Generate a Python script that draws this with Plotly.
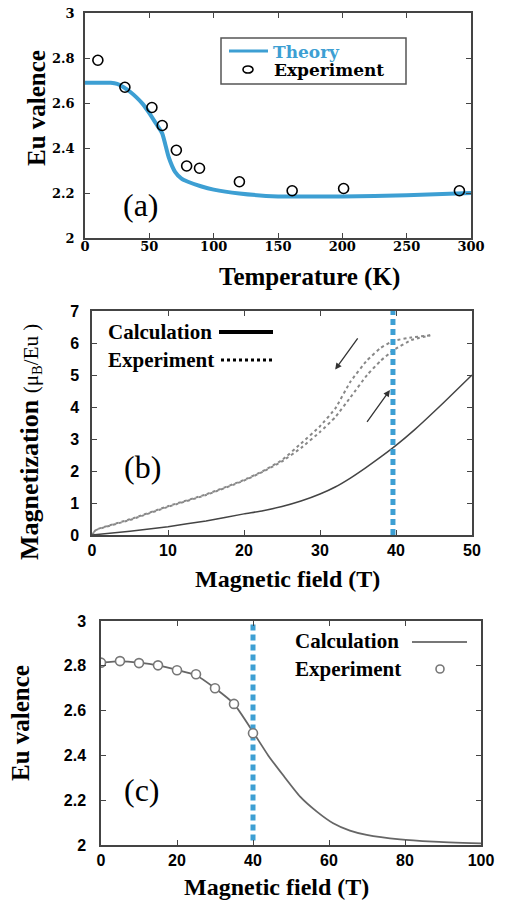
import plotly.graph_objects as go

W, H = 507, 901
BLUE = "#3d9fd3"
SERIF = "Liberation Serif"
WSERIF = "DejaVu Serif"
SANS = "Liberation Sans"

# ---------- Panel (a) data ----------
a_theory_T = [0, 10, 20, 25, 30, 35, 40, 45, 50, 55, 60, 65, 70, 75, 80, 90, 100, 120, 150, 200, 250, 300]
a_theory_v = [2.69, 2.69, 2.69, 2.685, 2.67, 2.65, 2.625, 2.595, 2.555, 2.51, 2.465, 2.36, 2.294, 2.264, 2.25, 2.23, 2.215, 2.198, 2.185, 2.185, 2.19, 2.20]
a_exp_T = [10, 31, 52, 60, 71, 79, 89, 120, 161, 201, 291]
a_exp_v = [2.79, 2.67, 2.58, 2.50, 2.39, 2.32, 2.31, 2.25, 2.21, 2.22, 2.21]

# ---------- Panel (b) data ----------
b_calc_B = [0, 5, 10, 15, 20, 22.5, 25, 27.5, 30, 32, 34, 36, 38, 40, 42.5, 45, 47.5, 50]
b_calc_M = [0, 0.12, 0.26, 0.44, 0.66, 0.76, 0.89, 1.06, 1.28, 1.5, 1.78, 2.1, 2.44, 2.8, 3.3, 3.85, 4.42, 5.0]
b_up_B = [0, 0.5, 5, 10, 15, 20, 22.5, 25, 27.5, 30, 32, 34, 36.2, 38, 39.7, 42, 44.5]
b_up_M = [0, 0.15, 0.47, 0.88, 1.25, 1.7, 1.98, 2.3, 2.72, 3.22, 3.68, 4.3, 5.0, 5.45, 5.78, 6.09, 6.24]
b_down_B = [44.5, 42, 39.7, 38, 36.2, 34, 32, 30, 27.5, 25, 22.5, 20, 15, 10, 5, 0.5, 0]
b_down_M = [6.24, 6.17, 6.07, 5.85, 5.46, 4.79, 3.95, 3.4, 2.86, 2.34, 2.0, 1.72, 1.27, 0.9, 0.49, 0.16, 0]
b_arrow_down = [35.1, 6.19, 32.0, 5.17]   # tail x, tail y, head x, head y
b_arrow_up = [36.05, 3.49, 39.2, 4.53]
b_vline = 39.6

# ---------- Panel (c) data ----------
c_calc_B = [0, 5, 10, 15, 20, 25, 30, 35, 40, 44, 48, 52.4, 56.8, 61.1, 65.5, 69.9, 78.7, 87.5, 100]
c_calc_v = [2.815, 2.82, 2.814, 2.802, 2.782, 2.758, 2.70, 2.63, 2.505, 2.40, 2.31, 2.216, 2.149, 2.097, 2.064, 2.045, 2.025, 2.015, 2.007]
c_exp_B = [0, 5, 10, 15, 20, 25, 30, 35, 40]
c_exp_v = [2.814, 2.821, 2.812, 2.802, 2.78, 2.762, 2.70, 2.63, 2.499]
c_vline = 40

fig = go.Figure()

# (a)
fig.add_trace(go.Scatter(x=a_theory_T, y=a_theory_v, mode="lines", line=dict(color=BLUE, width=4, shape="spline", smoothing=0.5),
                         xaxis="x", yaxis="y", showlegend=False))
fig.add_trace(go.Scatter(x=a_exp_T, y=a_exp_v, mode="markers",
                         marker=dict(symbol="circle-open", size=10, color="black", line=dict(width=1.6)),
                         xaxis="x", yaxis="y", showlegend=False))
# (b)
for xs, ys in ((b_up_B, b_up_M), (b_down_B, b_down_M)):
    fig.add_trace(go.Scatter(x=xs, y=ys, mode="lines", line=dict(color="#888", width=2, dash="dot", shape="spline", smoothing=0.4),
                             xaxis="x2", yaxis="y2", showlegend=False))
fig.add_trace(go.Scatter(x=b_calc_B, y=b_calc_M, mode="lines", line=dict(color="#444", width=1.5, shape="spline", smoothing=0.4),
                         xaxis="x2", yaxis="y2", showlegend=False))
fig.add_trace(go.Scatter(x=[b_vline, b_vline], y=[0, 7], mode="lines", line=dict(color=BLUE, width=5, dash="6px,4px"),
                         xaxis="x2", yaxis="y2", showlegend=False))
# (c)
fig.add_trace(go.Scatter(x=c_calc_B, y=c_calc_v, mode="lines", line=dict(color="#666", width=1.8, shape="spline", smoothing=0.5),
                         xaxis="x3", yaxis="y3", showlegend=False))
fig.add_trace(go.Scatter(x=[c_vline, c_vline], y=[2.02, 3.0], mode="lines", line=dict(color=BLUE, width=5, dash="6px,4px"),
                         xaxis="x3", yaxis="y3", showlegend=False))
fig.add_trace(go.Scatter(x=c_exp_B, y=c_exp_v, mode="markers",
                         marker=dict(symbol="circle", size=9, color="white", line=dict(width=1.6, color="#777")),
                         xaxis="x3", yaxis="y3", showlegend=False))

def px(x):
    return x / W

def py(y):
    return 1 - y / H

axis_common = dict(showline=True, mirror="ticks", linecolor="#444", linewidth=1.5, ticks="inside",
                   ticklen=5, tickcolor="#444", showgrid=False, zeroline=False, automargin=False)
serif_tick = dict(family=WSERIF, size=13, color="black", weight="bold")
sans_tick = dict(family=SANS, size=16, color="black", weight="bold")

fig.update_layout(
    width=W, height=H, margin=dict(l=0, r=0, t=0, b=0, autoexpand=False),
    paper_bgcolor="white", plot_bgcolor="white", hovermode=False,
    xaxis=dict(domain=[px(85), px(471)], range=[0, 300], tickvals=[0, 50, 100, 150, 200, 250, 300],
               anchor="y", tickfont=serif_tick, ticklabelstandoff=-4, **axis_common),
    yaxis=dict(domain=[py(238), py(13)], range=[2, 3], tickvals=[2, 2.2, 2.4, 2.6, 2.8, 3],
               ticktext=["2", "2.2", "2.4", "2.6", "2.8", "3"], anchor="x", tickfont=serif_tick,
               ticklabelstandoff=6, **axis_common),
    xaxis2=dict(domain=[px(92), px(472)], range=[0, 50], tickvals=[0, 10, 20, 30, 40, 50],
                anchor="y2", tickfont=sans_tick, **axis_common),
    yaxis2=dict(domain=[py(535), py(311)], range=[0, 7], tickvals=list(range(8)),
                anchor="x2", tickfont=sans_tick, ticklabelstandoff=8, **axis_common),
    xaxis3=dict(domain=[px(101), px(481)], range=[0, 100], tickvals=[0, 20, 40, 60, 80, 100],
                anchor="y3", tickfont=sans_tick, **axis_common),
    yaxis3=dict(domain=[py(845), py(621)], range=[2, 3], tickvals=[2, 2.2, 2.4, 2.6, 2.8, 3],
                ticktext=["2", "2.2", "2.4", "2.6", "2.8", "3"], anchor="x3", tickfont=sans_tick,
                ticklabelstandoff=10, **axis_common),
)

ann = []
def text(x, y, s, size, family=SERIF, color="black", angle=0, xanchor="center", bold=True):
    ann.append(dict(x=px(x), y=py(y), xref="paper", yref="paper", text=s, showarrow=False,
                    textangle=angle, xanchor=xanchor, yanchor="middle",
                    font=dict(family=family, size=size, color=color, weight="bold" if bold else "normal")))

# axis titles
text(309, 277, "Temperature (K)", 25)
text(36, 108, "Eu valence", 25, angle=-90)
text(287, 579, "Magnetic field (T)", 24)
text(30, 442, "<b>Magnetization</b> <span style='font-size:21px;font-weight:normal'>(μ<sub>B</sub>/Eu )</span>", 26, angle=-90, bold=False)
text(276, 887, "Magnetic field (T)", 24)
text(20, 723, "Eu valence", 25, angle=-90)

# panel labels
text(141, 205, "(a)", 32, bold=False)
text(142, 467, "(b)", 32, bold=False)
text(142, 790, "(c)", 32, bold=False)

# legend (a)
text(271, 52, "Theory", 17, family=WSERIF, color=BLUE, xanchor="left")
text(272, 70, "Experiment", 17, family=WSERIF, xanchor="left")
# legend (b)
text(106, 332, "Calculation", 21, xanchor="left")
text(106, 360, "Experiment", 21, xanchor="left")
# legend (c)
text(293, 641, "Calculation", 21, xanchor="left")
text(293, 669, "Experiment", 21, xanchor="left")

# arrows in (b)
for arr in (b_arrow_down, b_arrow_up):
    ann.append(dict(x=arr[2], y=arr[3], ax=arr[0], ay=arr[1], xref="x2", yref="y2", axref="x2", ayref="y2",
                    showarrow=True, arrowhead=2, arrowsize=1, arrowwidth=1.3, arrowcolor="#333", text=""))

fig.update_layout(annotations=ann)

shapes = [
    # legend box (a)
    dict(type="rect", xref="paper", yref="paper", x0=px(221), x1=px(406), y0=py(84), y1=py(38),
         line=dict(color="#555", width=1.5), fillcolor="white", layer="below"),
    dict(type="line", xref="paper", yref="paper", x0=px(229), x1=px(268), y0=py(51), y1=py(51),
         line=dict(color=BLUE, width=3)),
    dict(type="circle", xref="paper", yref="paper", x0=px(243), x1=px(253), y0=py(73), y1=py(66),
         line=dict(color="black", width=1.6)),
    # legend (b)
    dict(type="line", xref="paper", yref="paper", x0=px(219), x1=px(273), y0=py(332), y1=py(332),
         line=dict(color="black", width=4)),
    dict(type="line", xref="paper", yref="paper", x0=px(221), x1=px(275), y0=py(360), y1=py(360),
         line=dict(color="black", width=3, dash="dot")),
    # legend (c)
    dict(type="line", xref="paper", yref="paper", x0=px(412), x1=px(467), y0=py(642), y1=py(642),
         line=dict(color="#777", width=1.8)),
    dict(type="circle", xref="paper", yref="paper", x0=px(436), x1=px(444), y0=py(673), y1=py(665),
         line=dict(color="#777", width=1.6), fillcolor="white"),
]
fig.update_layout(shapes=shapes)

fig.write_html("out.html", config={"displayModeBar": False},
               post_script="document.body.style.margin='0';document.body.style.overflow='hidden';")
